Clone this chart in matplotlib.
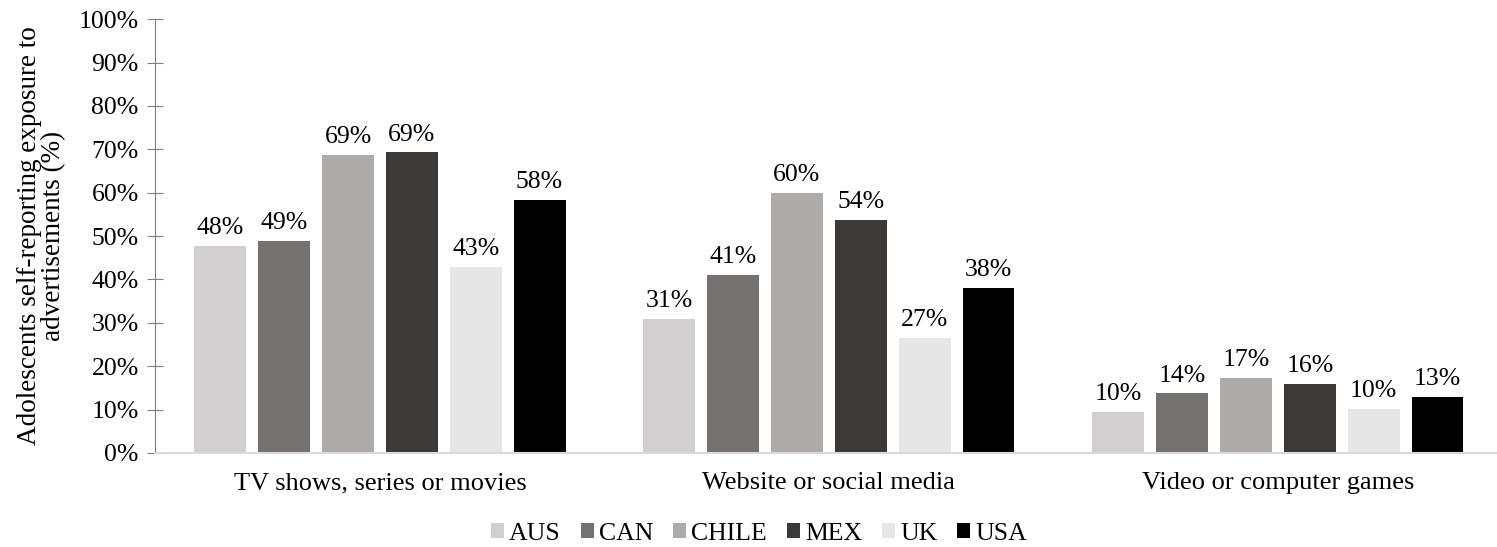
import matplotlib
matplotlib.use("Agg")
import matplotlib.pyplot as plt
import numpy as np

plt.rcParams['font.family'] = ['Liberation Serif', 'DejaVu Serif']

categories = ['TV shows, series or movies', 'Website or social media', 'Video or computer games']
countries = ['AUS', 'CAN', 'CHILE', 'MEX', 'UK', 'USA']
colors = ['#d0cece', '#767171', '#aeaaaa', '#3b3838', '#e7e6e6', '#000000']

# values in %, one list per country (TV, Web, Games)
aus = [47.7, 30.9, 9.5]
can = [48.9, 41.0, 13.7]
chile = [68.7, 59.9, 17.3]
mex = [69.3, 53.7, 15.9]
uk = [42.8, 26.6, 10.2]
usa = [58.3, 38.0, 12.9]
series = [aus, can, chile, mex, uk, usa]

fig = plt.figure(figsize=(14.97, 5.47), dpi=100)
ax = fig.add_axes([155 / 1497, 0.172, 1 - 155 / 1497, 0.793])

x = np.arange(len(categories))
step = 0.1422
width = 0.1156
for i, (name, vals, c) in enumerate(zip(countries, series, colors)):
    pos = x + (i - 2.5) * step
    ax.bar(pos, vals, width, color=c, label=name)
    for p, v in zip(pos, vals):
        ax.annotate(f'{round(v):.0f}%', (p, v), xytext=(0, 8.5), textcoords='offset points',
                    ha='center', va='baseline', fontsize=18.5)

ax.set_xlim(-0.501, 2.488)
ax.set_ylim(0, 100)
ax.set_yticks(np.arange(0, 101, 10))
ax.set_yticklabels([f'{t}%' for t in range(0, 101, 10)], fontsize=18.5)
ax.set_xticks(x)
ax.set_xticklabels(categories, fontsize=19)
ax.tick_params(axis='x', length=0, pad=14)
ax.tick_params(axis='y', direction='inout', length=11.5, color='#7f7f7f', pad=6)

ax.spines['top'].set_visible(False)
ax.spines['right'].set_visible(False)
ax.spines['left'].set_color('#7f7f7f')
ax.spines['bottom'].set_color('#d9d9d9')
ax.spines['bottom'].set_linewidth(1.5)

ax.set_ylabel('Adolescents self-reporting exposure to\nadvertisements (%)', fontsize=19.5,
              linespacing=0.95, labelpad=9)

fig.legend(loc='lower center', ncol=6, frameon=False, fontsize=18.5,
           bbox_to_anchor=(0.507, -0.038), handlelength=0.5, handleheight=0.5,
           handletextpad=0.2, columnspacing=0.78)

fig.savefig('out.png', dpi=100)
